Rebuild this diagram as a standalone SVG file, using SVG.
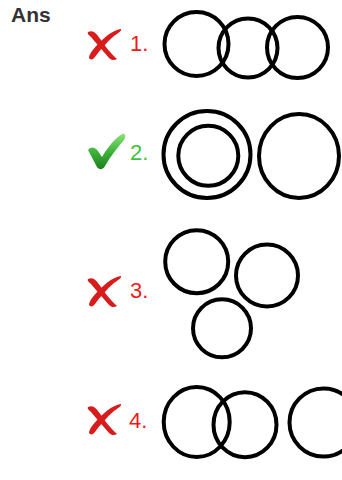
<svg xmlns="http://www.w3.org/2000/svg" width="342" height="480" viewBox="0 0 342 480">
<style>
.c{fill:none;stroke:#000;stroke-width:4}
.lbl{font-family:"Liberation Sans",Arial,sans-serif;font-size:22px}
.red{fill:#f21b1b}
.grn{fill:#3cc43c}
.x{fill:#d81c1c}
</style>
<defs>
<linearGradient id="gg" x1="0" y1="0" x2="0" y2="1">
<stop offset="0" stop-color="#8de27a"/>
<stop offset="0.5" stop-color="#3fb33a"/>
<stop offset="1" stop-color="#1d7f1d"/>
</linearGradient>
<g id="xm">
<path class="x" d="M-16,-12 C-12,-14 -9,-12 -6,-8 C0,0 5,8 13,15 C10,17 7,16 5,14 C0,8 -7,0 -13,-7 C-15,-9 -17,-10 -16,-12 Z"/>
<path class="x" d="M17,-15 C18,-13 14,-11 10,-8 C3,-2 -4,6 -9,13 C-11,16 -14,16 -15,14 C-15,10 -10,4 -4,-2 C3,-9 10,-14 17,-15 Z"/>
</g>
</defs>
<text x="11" y="22" font-family="Liberation Sans,Arial,sans-serif" font-size="21" font-weight="bold" fill="#333">Ans</text>

<g id="option1">
<use href="#xm" x="104" y="44"/>
<text class="lbl red" x="130" y="51">1.</text>
<circle class="c" cx="196.5" cy="44" r="32"/>
<circle class="c" cx="248" cy="48" r="29.5"/>
<circle class="c" cx="297.5" cy="47.5" r="30.5"/>
</g>

<g id="option2">
<path d="M88,150 C91,146 95,147 98,151 L102,157 C108,147 115,138 122,134 C126,133 126,137 124,140 C117,148 110,157 105,166 C103,170 99,170 97,167 Z" fill="url(#gg)"/>
<text class="lbl grn" x="130" y="160">2.</text>
<circle class="c" cx="207" cy="154.5" r="43.5"/>
<circle class="c" cx="208.3" cy="155.8" r="30"/>
<ellipse class="c" cx="299" cy="156" rx="40" ry="42"/>
</g>

<g id="option3">
<use href="#xm" x="104" y="291"/>
<text class="lbl red" x="130" y="298">3.</text>
<circle class="c" cx="196.7" cy="261.7" r="31.5"/>
<circle class="c" cx="267" cy="275.5" r="31"/>
<circle class="c" cx="222" cy="328.3" r="29"/>
</g>

<g id="option4">
<use href="#xm" x="104" y="419"/>
<text class="lbl red" x="129" y="428">4.</text>
<ellipse class="c" cx="196.7" cy="422" rx="33" ry="35"/>
<ellipse class="c" cx="245" cy="424.7" rx="31.5" ry="32.5"/>
<ellipse class="c" cx="323.5" cy="422.5" rx="34" ry="34"/>
</g>
</svg>
